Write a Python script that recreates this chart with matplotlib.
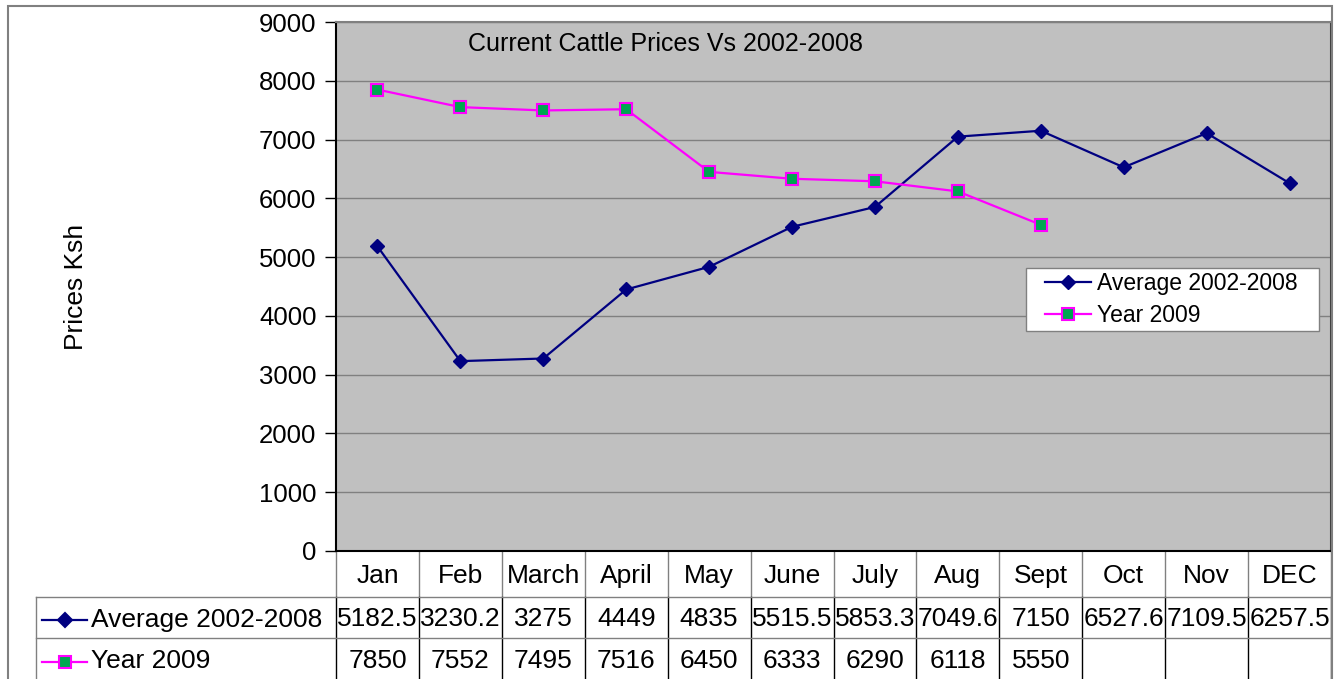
import matplotlib.pyplot as plt
import matplotlib.transforms as mtransforms
from matplotlib.patches import Rectangle

months = ['Jan', 'Feb', 'March', 'April', 'May', 'June', 'July', 'Aug',
          'Sept', 'Oct', 'Nov', 'DEC']
avg_2002_2008 = [5182.5, 3230.2, 3275, 4449, 4835, 5515.5, 5853.3, 7049.6,
                 7150, 6527.6, 7109.5, 6257.5]
year_2009 = [7850, 7552, 7495, 7516, 6450, 6333, 6290, 6118, 5550]

avg_labels = ['5182.5', '3230.2', '3275', '4449', '4835', '5515.5', '5853.3',
              '7049.6', '7150', '6527.6', '7109.5', '6257.5']
y2009_labels = ['7850', '7552', '7495', '7516', '6450', '6333', '6290',
                '6118', '5550', '', '', '']

NAVY = '#000080'
MAGENTA = '#FF00FF'
GREEN = '#00A651'
GRID = '#808080'

plt.rcParams['font.family'] = ['Liberation Sans', 'DejaVu Sans']

fig = plt.figure(figsize=(13.44, 6.79), dpi=100)
ax = fig.add_axes([336 / 1344, 1 - 551 / 679, 995 / 1344, 529 / 679])
ax.set_facecolor('#C0C0C0')

# outer chart border
fig.patches.append(Rectangle((8 / 1344, -0.1), 1324 / 1344, 1.1 - 6 / 679,
                             transform=fig.transFigure, fill=False,
                             edgecolor='#808080', linewidth=1.5))

x = list(range(len(months)))
ax.plot(x, avg_2002_2008, color=NAVY, linewidth=1.6, marker='D',
        markersize=7, markerfacecolor=NAVY, markeredgecolor=NAVY,
        label='Average 2002-2008', zorder=3)
ax.plot(x[:len(year_2009)], year_2009, color=MAGENTA, linewidth=1.6,
        marker='s', markersize=9, markerfacecolor=GREEN,
        markeredgecolor=MAGENTA, markeredgewidth=1.5, label='Year 2009',
        zorder=3)

ax.set_xlim(-0.5, len(months) - 0.5)
ax.set_ylim(0, 9000)
ax.set_yticks(range(0, 9001, 1000))
ax.tick_params(axis='y', labelsize=18.5, length=8, width=1, direction='out',
               color='black', pad=6)
ax.set_xticks([])
ax.grid(axis='y', color=GRID, linewidth=1)
ax.set_axisbelow(True)
ax.spines['left'].set_color('black')
ax.spines['bottom'].set_color('black')
ax.spines['top'].set_color(GRID)
ax.spines['right'].set_color('#404040')
for s in ax.spines.values():
    s.set_linewidth(1.5)

ax.set_ylabel('Prices Ksh', fontsize=19)
ax.yaxis.set_label_coords((88 - 336) / 995, 0.5)

ax.text(0.1327, 0.958, 'Current Cattle Prices Vs 2002-2008',
        transform=ax.transAxes, fontsize=18, ha='left', va='center')

# legend box
ax.add_patch(Rectangle((0.693, 0.416), 0.295, 0.119, transform=ax.transAxes,
                       facecolor='white', edgecolor=GRID, linewidth=1,
                       zorder=4))
leg = ax.legend(loc='center left', bbox_to_anchor=(0.713, 0.4755),
                fontsize=16.5, frameon=False, borderpad=0,
                handlelength=2.0, handletextpad=0.25, labelspacing=0.4,
                borderaxespad=0)
leg.set_zorder(5)

# data table below the axes
blend = mtransforms.blended_transform_factory(ax.transData, ax.transAxes)
h = 529.0
r_head = -46 / h
r1 = -87 / h
r2 = -130 / h
left_lab = -300 / 995
dy = -2 / h

for i in range(len(months) + 1):
    xb = i - 0.5
    ax.plot([xb, xb], [0, r_head], transform=blend, color=GRID, lw=1,
            clip_on=False)
    ax.plot([xb, xb], [r_head, r2], transform=blend, color='black', lw=1,
            clip_on=False)
for yb in (r_head, r1):
    ax.plot([left_lab, 1], [yb, yb], transform=ax.transAxes, color=GRID,
            lw=1, clip_on=False)
ax.plot([left_lab, left_lab], [r_head, r2], transform=ax.transAxes,
        color=GRID, lw=1, clip_on=False)

yc_head = (0 + r_head) / 2 + dy
yc_avg = (r_head + r1) / 2 + dy
yc_09 = (r1 + r2) / 2 + dy
for i, m in enumerate(months):
    ax.text(i, yc_head, m, transform=blend, ha='center', va='center',
            fontsize=19)
    ax.text(i, yc_avg, avg_labels[i], transform=blend, ha='center',
            va='center', fontsize=19)
    ax.text(i, yc_09, y2009_labels[i], transform=blend, ha='center',
            va='center', fontsize=19)

# row labels with legend keys
rows = [('Average 2002-2008', NAVY, 'D', NAVY, NAVY, 7, yc_avg),
        ('Year 2009', MAGENTA, 's', GREEN, MAGENTA, 9, yc_09)]
for label, lc, mk, mfc, mec, ms, yc in rows:
    x0 = (42 - 336) / 995
    x1 = (87 - 336) / 995
    ax.plot([x0, x1], [yc, yc], transform=ax.transAxes, color=lc, lw=1.6,
            clip_on=False)
    ax.plot([(x0 + x1) / 2], [yc], transform=ax.transAxes, marker=mk,
            markersize=ms, markerfacecolor=mfc, markeredgecolor=mec,
            markeredgewidth=1.5, clip_on=False)
    ax.text((91 - 336) / 995, yc, label, transform=ax.transAxes,
            ha='left', va='center', fontsize=19)

fig.savefig('out.png', dpi=100)
